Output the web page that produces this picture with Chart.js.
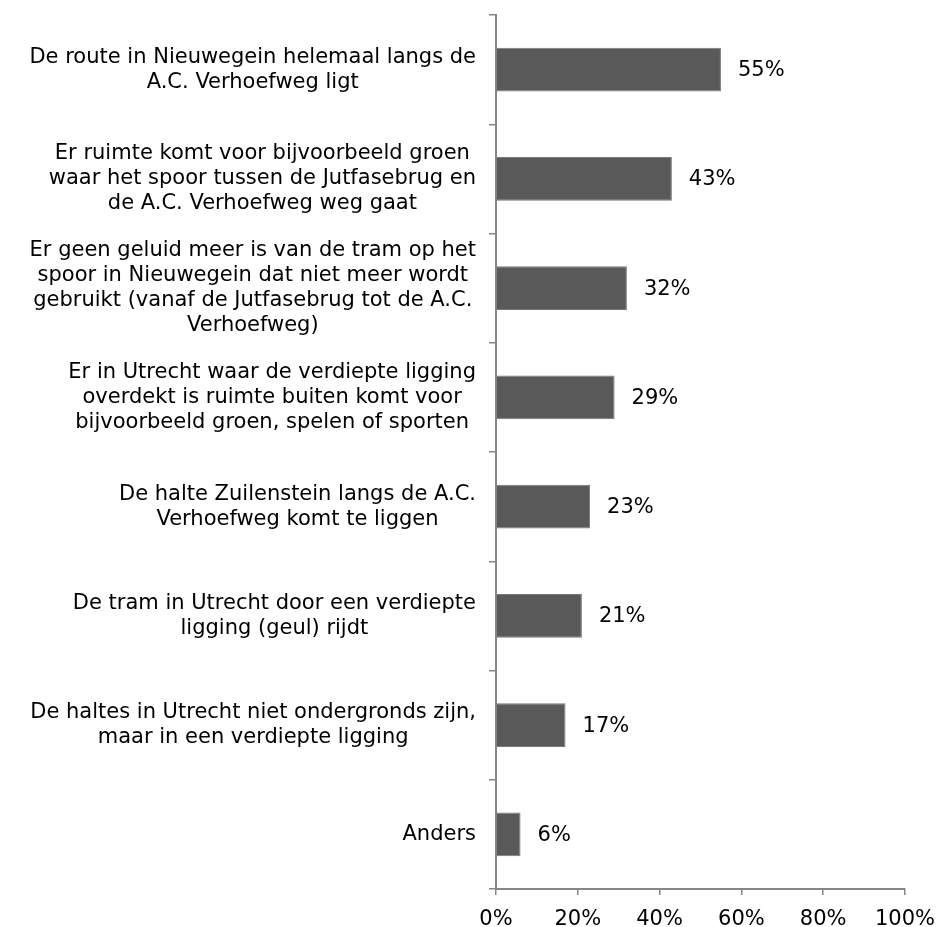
<!DOCTYPE html>
<html>
<head>
<meta charset="utf-8">
<script src="https://cdn.jsdelivr.net/npm/chart.js@4"></script>
<style>
  body { margin: 0; background: #fff; }
  #wrap { width: 939px; height: 927px; }
</style>
</head>
<body>
<div id="wrap"><canvas id="myChart" width="939" height="927"></canvas></div>
<script>
// labels already wrapped the way the picture shows them
var categories = [
    ["De route in Nieuwegein helemaal langs de", "A.C. Verhoefweg ligt"],
    ["Er ruimte komt voor bijvoorbeeld groen", "waar het spoor tussen de Jutfasebrug en", "de A.C. Verhoefweg weg gaat"],
    ["Er geen geluid meer is van de tram op het", "spoor in Nieuwegein dat niet meer wordt", "gebruikt (vanaf de Jutfasebrug tot de A.C.", "Verhoefweg)"],
    ["Er in Utrecht waar de verdiepte ligging", "overdekt is ruimte buiten komt voor", "bijvoorbeeld groen, spelen of sporten"],
    ["De halte Zuilenstein langs de A.C.", "Verhoefweg komt te liggen"],
    ["De tram in Utrecht door een verdiepte", "ligging (geul) rijdt"],
    ["De haltes in Utrecht niet ondergronds zijn,", "maar in een verdiepte ligging"],
    ["Anders"]
];
var percentages = [55, 43, 32, 29, 23, 21, 17, 6];
var xTicks = [0, 20, 40, 60, 80, 100];

var FONT = '21px "DejaVu Sans"';

// y labels: right-aligned block, lines centred inside the block (like Excel)
var labelPlugin = {
    id: 'blockLabels',
    afterDraw: function (chart) {
        var ctx = chart.ctx;
        var ys = chart.scales.y;
        var meta = chart.getDatasetMeta(0);
        ctx.save();
        ctx.font = FONT;
        ctx.fillStyle = '#000';
        ctx.textBaseline = 'middle';
        ctx.textAlign = 'center';
        var right = 476;
        var lh = 25;
        for (var i = 0; i < categories.length; i++) {
            var lines = categories[i];
            var w = 0;
            lines.forEach(function (l) { w = Math.max(w, ctx.measureText(l).width); });
            var cx = right - w / 2;
            var cy = ys.getPixelForTick(i);
            for (var j = 0; j < lines.length; j++) {
                ctx.fillText(lines[j], cx, cy + (j - (lines.length - 1) / 2) * lh);
            }
        }
        // value labels
        ctx.textAlign = 'left';
        meta.data.forEach(function (bar, i) {
            ctx.fillText(percentages[i] + '%', bar.x + 17, bar.y + 1);
        });
        ctx.restore();
    }
};

new Chart("myChart", {
    type: "bar",
    data: {
        labels: categories,
        datasets: [{
            data: percentages,
            backgroundColor: '#595959',
            borderColor: '#787878',
            borderWidth: 1,
            barPercentage: 0.4,
            categoryPercentage: 1
        }]
    },
    options: {
        indexAxis: 'y',
        responsive: false,
        animation: false,
        layout: { padding: { top: 15, right: 34, left: 0, bottom: 0 } },
        plugins: {
            legend: { display: false },
            tooltip: { enabled: false }
        },
        scales: {
            y: {
                ticks: { display: false },
                grid: { drawOnChartArea: false, tickLength: 7, color: '#868686', lineWidth: 1.5 },
                border: { color: '#868686', width: 2 },
                afterFit: function (scale) { scale.width = 496; }
            },
            x: {
                min: 0,
                max: 100,
                afterBuildTicks: function (scale) {
                    scale.ticks = xTicks.map(function (v) { return { value: v }; });
                },
                ticks: {
                    callback: function (v) { return v + '%'; },
                    font: { family: 'DejaVu Sans', size: 21 },
                    color: '#000',
                    padding: 12,
                    maxRotation: 0
                },
                grid: { drawOnChartArea: false, tickLength: 6, color: '#868686', lineWidth: 1.5 },
                border: { color: '#868686', width: 2 },
                afterFit: function (scale) {
                    scale.height = 38;
                    scale.paddingLeft = 0;
                    scale.paddingRight = 0;
                }
            }
        }
    },
    plugins: [labelPlugin]
});
</script>
</body>
</html>
